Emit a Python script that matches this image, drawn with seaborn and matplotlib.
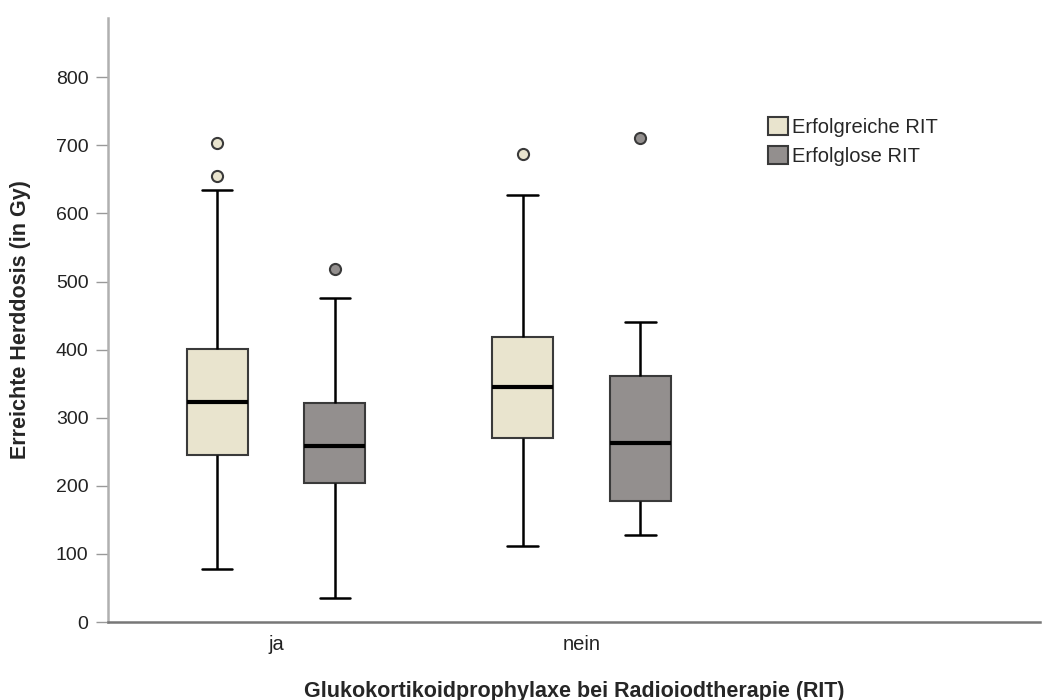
import pandas as pd
import matplotlib
matplotlib.use("Agg")
import matplotlib.pyplot as plt
import seaborn as sns

# Werte (Gy)
prophylaxe = ["ja", "ja", "nein", "nein"]
gruppe = ["Erfolgreiche RIT", "Erfolglose RIT", "Erfolgreiche RIT", "Erfolglose RIT"]
whisker_low = [78, 35, 112, 128]
q1 = [245, 204, 270, 178]
median = [323, 258, 345, 263]
q3 = [401, 321, 418, 361]
whisker_high = [634, 476, 627, 441]
ausreisser = [[655, 703], [518], [687], [711]]

order = ["ja", "nein"]
hue_order = ["Erfolgreiche RIT", "Erfolglose RIT"]
colors = ["#E9E4CE", "#938F8E"]

# long table whose quartiles/whiskers reproduce the read-off box statistics
rows = []
for p, g, lo, a, m, b, hi, out in zip(prophylaxe, gruppe, whisker_low, q1, median,
                                      q3, whisker_high, ausreisser):
    vals = [lo] + [a] * 20 + [m] * 20 + [b] * 20 + [hi] + out
    for v in vals:
        rows.append({"Prophylaxe": p, "Gruppe": g, "Dosis": v})
df = pd.DataFrame(rows)

sns.set_style("white")
plt.rcParams["font.family"] = ["Liberation Sans", "DejaVu Sans"]

fig = plt.figure(figsize=(10.43, 7), dpi=100)
ax = fig.add_axes([0.1035, 0.1114, 0.8935, 0.8629])

sns.boxplot(data=df, x="Prophylaxe", y="Dosis", hue="Gruppe", order=order,
            hue_order=hue_order, palette=colors, saturation=1, width=0.77, gap=0.48,
            linecolor="#3a3a3a", linewidth=1.5, ax=ax,
            medianprops=dict(color="black", linewidth=3),
            whiskerprops=dict(color="black", linewidth=1.8),
            capprops=dict(color="black", linewidth=1.8),
            flierprops=dict(marker="o", markersize=8, markeredgecolor="#3a3a3a",
                            markeredgewidth=1.5))

for cont, c in zip(ax.containers, colors):
    fl = cont.fliers
    if not isinstance(fl, (list, tuple)):
        fl = [fl]
    for f in fl:
        f.set_markerfacecolor(c)

ax.set_xlim(-0.55, 2.5)
ax.set_ylim(0, 887)
ax.set_yticks(range(0, 801, 100))

for s in ["top", "right"]:
    ax.spines[s].set_visible(False)
ax.spines["left"].set_color("#b0b0b0")
ax.spines["left"].set_linewidth(1.8)
ax.spines["bottom"].set_color("#777777")
ax.spines["bottom"].set_linewidth(1.8)

ax.tick_params(axis="y", length=9, width=1, color="#999999", labelsize=14,
               labelcolor="#222222", pad=5, left=True)
ax.tick_params(axis="x", length=0, labelsize=14.5, labelcolor="#222222", pad=9)

ax.set_ylabel("Erreichte Herddosis (in Gy)", fontsize=15.5, fontweight="bold")
ax.set_xlabel("Glukokortikoidprophylaxe bei Radioiodtherapie (RIT)", fontsize=15.5,
              fontweight="bold")
ax.yaxis.set_label_coords(-0.083, 0.5)
ax.xaxis.set_label_coords(0.5, -0.097)

handles, labels = ax.get_legend_handles_labels()
ax.legend(handles, labels, loc="upper left", bbox_to_anchor=(0.7, 0.85),
          frameon=False, fontsize=14.5, handlelength=1.0, handleheight=1.0,
          handletextpad=0.15, labelspacing=0.45, borderaxespad=0)

fig.savefig("out.png", dpi=100)
